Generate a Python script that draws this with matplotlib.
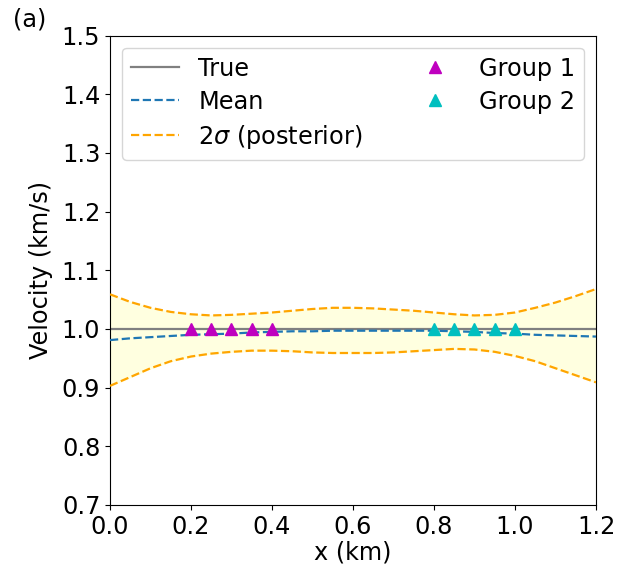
import numpy as np
import matplotlib
matplotlib.use("Agg")
import matplotlib.pyplot as plt

x_grid = [0.00, 0.05, 0.10, 0.15, 0.20, 0.25, 0.30, 0.35, 0.40, 0.45, 0.50, 0.55,
          0.60, 0.65, 0.70, 0.75, 0.80, 0.85, 0.90, 0.95, 1.00, 1.05, 1.10, 1.15, 1.20]
upper = [1.059, 1.046, 1.036, 1.029, 1.025, 1.023, 1.024, 1.026, 1.028, 1.031, 1.034, 1.036,
         1.036, 1.035, 1.033, 1.031, 1.028, 1.025, 1.023, 1.024, 1.028, 1.036, 1.045, 1.056, 1.068]
lower = [0.903, 0.918, 0.933, 0.945, 0.953, 0.958, 0.961, 0.963, 0.963, 0.962, 0.960, 0.959,
         0.959, 0.959, 0.960, 0.962, 0.964, 0.966, 0.965, 0.961, 0.954, 0.945, 0.933, 0.921, 0.909]
mean = [0.981, 0.984, 0.986, 0.988, 0.990, 0.991, 0.992, 0.994, 0.995, 0.996, 0.996, 0.997,
        0.997, 0.997, 0.997, 0.997, 0.997, 0.996, 0.995, 0.993, 0.992, 0.990, 0.989, 0.988, 0.987]
true_x = [0.0, 1.2]
true_v = [1.0, 1.0]
group1_x = [0.20, 0.25, 0.30, 0.35, 0.40]
group1_v = [1.0, 1.0, 1.0, 1.0, 1.0]
group2_x = [0.80, 0.85, 0.90, 0.95, 1.00]
group2_v = [1.0, 1.0, 1.0, 1.0, 1.0]

plt.rcParams['font.size'] = 17.3
fig = plt.figure(figsize=(6.34, 5.74), dpi=100)
ax = fig.add_axes([110/634, 1 - 505/574, 486/634, (505 - 35.5)/574])

ax.fill_between(x_grid, lower, upper, color='lightyellow', zorder=1)
ax.plot(true_x, true_v, color='gray', lw=1.6, label='True', zorder=2)
ax.plot(x_grid, mean, '--', color='tab:blue', lw=1.6, label='Mean', zorder=3)
ax.plot(x_grid, upper, '--', color='orange', lw=1.6, label=r'2$\sigma$ (posterior)', zorder=3)
ax.plot(x_grid, lower, '--', color='orange', lw=1.6, zorder=3)
ax.plot(group1_x, group1_v, '^', color='m', markersize=8, linestyle='none', label='Group 1', zorder=4)
ax.plot(group2_x, group2_v, '^', color='c', markersize=8, linestyle='none', label='Group 2', zorder=4)

ax.set_xlim(0, 1.2)
ax.set_ylim(0.7, 1.5)
ax.set_xticks(np.arange(0, 1.21, 0.2))
ax.set_yticks(np.arange(0.7, 1.51, 0.1))
ax.set_xlabel('x (km)', labelpad=1)
ax.set_ylabel('Velocity (km/s)', labelpad=6)
ax.legend(loc='upper left', ncol=2, mode='expand', labelspacing=0.38,
          borderpad=0.38, handlelength=2.0)

fig.text(13/634, 1 - 26/574, '(a)', ha='left', va='baseline')
fig.savefig('out.png', dpi=100)
